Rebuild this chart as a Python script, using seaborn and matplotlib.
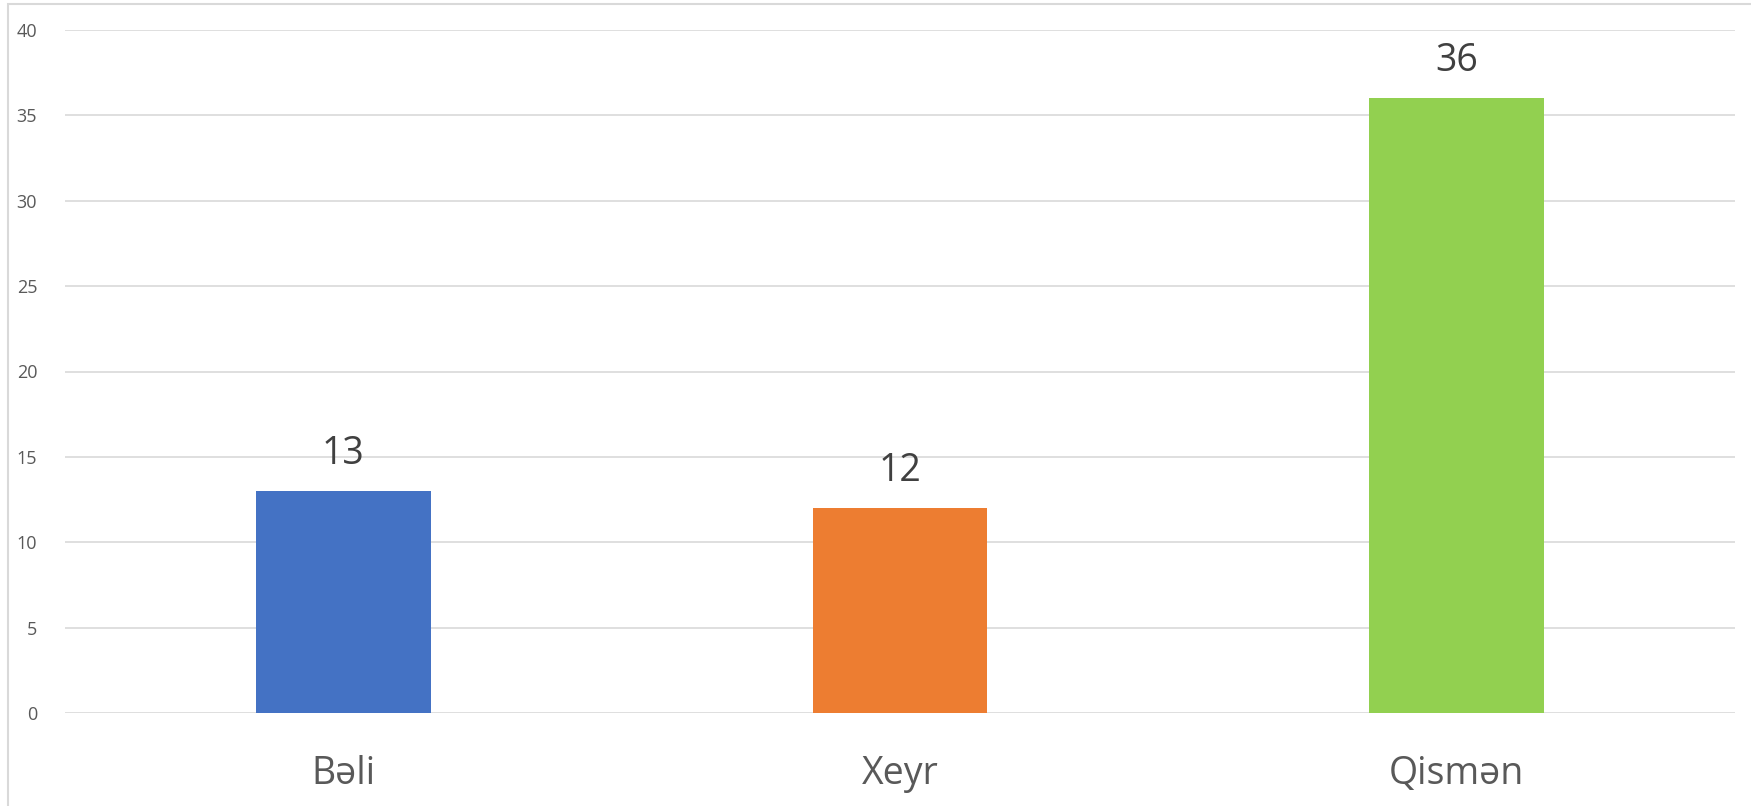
import pandas as pd
import matplotlib
matplotlib.use("Agg")
import matplotlib.pyplot as plt
import seaborn as sns
from matplotlib.patches import Rectangle

categories = ["Bəli", "Xeyr", "Qismən"]
values = [13, 12, 36]
colors = ["#4472C4", "#ED7D31", "#92D050"]
yticks = [0, 5, 10, 15, 20, 25, 30, 35, 40]

sns.set_theme(style="white")
plt.rcParams["font.family"] = ["Open Sans", "DejaVu Sans"]

df = pd.DataFrame({"cat": categories, "val": values})

fig = plt.figure(figsize=(17.51, 8.06), dpi=100)
ax = fig.add_axes([65 / 1751, 1 - 713 / 806, (1735 - 65) / 1751, (713 - 30) / 806])

sns.barplot(data=df, x="cat", y="val", hue="cat", palette=colors,
            width=0.314, saturation=1, linewidth=0, legend=False,
            ax=ax, zorder=3)

for c in ax.containers:
    ax.bar_label(c, fontsize=27, color="#404040", padding=13)

ax.set_ylim(0, 40)
ax.set_xlim(-0.5, 2.5)
ax.set_yticks(yticks)
ax.yaxis.grid(True, color="#d9d9d9", linewidth=1.2, zorder=0)
ax.set_axisbelow(True)
for s in ax.spines.values():
    s.set_visible(False)
ax.set_xlabel("")
ax.set_ylabel("")
ax.tick_params(axis="y", length=0, labelsize=13, labelcolor="#595959", pad=20)
ax.tick_params(axis="x", length=0, labelsize=27, labelcolor="#595959", pad=30)

# outer chart frame
fig.patches.append(Rectangle((8 / 1751, -0.1), 1.2, 1 - 4 / 806 + 0.1,
                             transform=fig.transFigure, fill=False,
                             edgecolor="#d9d9d9", linewidth=1.5))

fig.savefig("out.png", dpi=100)
